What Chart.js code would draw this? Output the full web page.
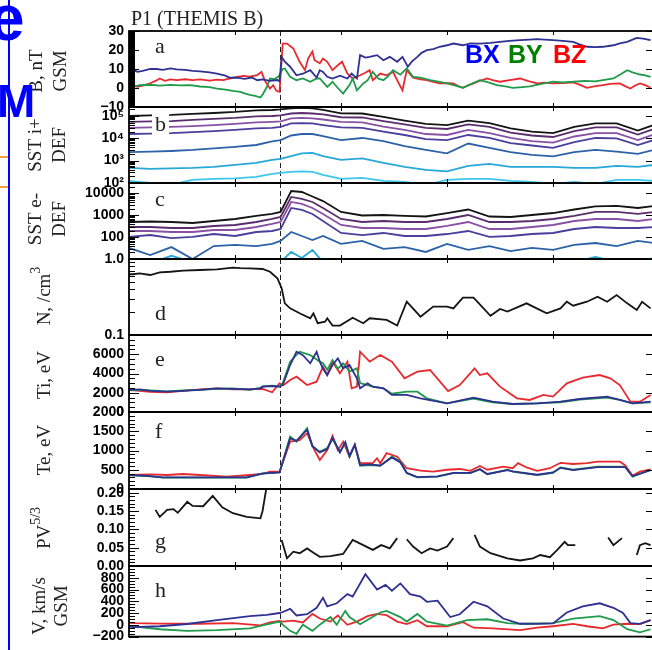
<!DOCTYPE html>
<html><head><meta charset="utf-8">
<script src="https://cdn.jsdelivr.net/npm/chart.js@4.4.1/dist/chart.umd.min.js"></script>
<style>
html,body{margin:0;padding:0;background:#fff;overflow:hidden;}
#wrap{position:relative;width:652px;height:650px;overflow:hidden;background:#fff;}
#wrap canvas{position:absolute;left:0;top:0;}
.ov{position:absolute;white-space:nowrap;z-index:10;}
</style></head>
<body><div id="wrap">
<div class="ov" style="left:131px;top:8px;font:20px/20px 'Liberation Serif',serif;color:#222;">P1 (THEMIS B)</div>
<div class="ov" style="left:465px;top:42px;font:bold 25px/25px 'Liberation Sans',Arial,sans-serif;color:#0000ff;">BX</div>
<div class="ov" style="left:508px;top:42px;font:bold 25px/25px 'Liberation Sans',Arial,sans-serif;color:#008000;">BY</div>
<div class="ov" style="left:553px;top:42px;font:bold 25px/25px 'Liberation Sans',Arial,sans-serif;color:#ff0000;">BZ</div>
<div class="ov" style="left:8px;top:0;width:2px;height:650px;background:#0000ff;"></div>
<div class="ov" style="left:0;top:156px;width:8px;height:2px;background:#f4a236;"></div>
<div class="ov" style="left:0;top:186px;width:8px;height:2px;background:#f4a236;"></div>
<div class="ov" style="left:-11px;top:-14px;font:bold 64px/64px 'Liberation Sans',Arial,sans-serif;color:#0000ff;">e</div>
<div class="ov" style="left:-3px;top:78px;font:bold 46px/46px 'Liberation Sans',Arial,sans-serif;color:#0000ff;">M</div>
</div>
<script>
// ---------------- time axis (arbitrary units, tick every 10) ----------------
const X_MAX = 49.43, ONSET = 14.25;
const X_TICKS = [10, 20, 30, 40];

// ---------------- panel a : B GSM (nT) ----------------
const aTbx = [0,0.4,0.8,1.3,2.0,2.6,3.2,3.9,4.5,5.3,6.0,6.7,7.6,8.3,9.1,9.5,10.2,10.9,11.6,12.1,12.6,13.3,14.0,14.2,14.4,14.7,15.2,15.8,16.4,17.1,17.7,18.0,18.3,18.7,19.2,19.9,20.6,21.0,21.5,21.8,22.3,22.7,23.4,24.0,24.6,25.3,25.8,26.3,26.7,27.2,27.6,28.1,28.7,29.3,30.0,30.6,31.5,32.2,33.1,34.1,35.0,35.9,36.9,37.8,38.5,39.2,40.0,40.9,41.9,42.5,43.2,44.0,44.7,45.7,46.3,47.0,47.5,47.9,48.5,49.2];
const aBX = [10,9.5,8.5,9,10,10,9.5,10.3,9.8,9.5,9,8.8,8.2,7.6,6.5,5.4,5.5,4.8,5.5,4.1,4.5,3.8,4.2,3.5,16.4,13.8,11.2,6.7,7.5,9.4,5.5,9.4,8.5,5.9,5,6.5,5,7.6,5,17.3,16,16.4,17.3,14.6,16.4,13.8,16.4,11.2,14,16.4,18.5,19.9,20.5,21.7,22.5,23.4,22.5,23.5,23.4,23.8,24.3,24.8,25.2,25.5,25.7,25.5,25.2,24.8,24.3,23,21.7,21.5,21.7,22.5,23.5,24.3,25.5,26.4,26,25.2];
const aTby = [0,0.6,1.0,2.0,2.9,3.9,4.8,5.8,6.7,7.6,8.3,9.1,9.8,10.5,10.9,11.4,11.9,12.4,12.6,13.0,13.3,13.7,14.1,14.5,14.7,15.2,15.8,16.4,17.1,17.7,18.0,18.7,19.2,19.7,20.2,20.8,21.1,21.5,22.1,22.5,23.0,23.5,24.0,24.4,24.9,25.6,26.2,26.8,27.5,28.4,29.2,30.0,30.8,31.5,32.2,33.1,33.9,34.7,35.5,36.2,37.1,37.8,38.8,40.0,40.9,41.9,43.0,44.0,44.7,45.7,46.3,47.0,47.5,48.2,48.7,49.2];
const aBY = [0.6,0.8,1.5,1.7,1.3,1.6,1.4,1.5,0.8,0.5,-0.3,-0.8,-1.5,-2,-2.8,-3.6,-4.2,-5,-3.5,0.5,5,4.6,6,10,10.3,5.9,4.1,5,3.3,5,5,0.6,3.3,0,-2.9,1.5,5,-1.2,2.4,4,8.5,5,4.1,6,9.4,7,10.3,5.9,5.5,4.1,3.3,2.4,1.3,0.1,2,4.1,3,1.5,0.8,0.1,0.5,0.8,2,3.3,3,3.3,3.8,3.5,4.1,5,7,9.4,8.2,7.1,6.6,5.9];
const aTbz = [0,0.4,0.8,1.3,2.0,2.6,2.9,3.4,3.9,4.5,5.3,6.0,6.7,7.6,8.3,8.9,9.5,10.2,10.8,11.4,12.1,12.5,12.8,13.3,13.6,13.9,14.2,14.5,14.9,15.5,16.1,16.6,16.9,17.3,17.5,18.0,18.3,18.7,19.2,19.7,20.1,20.6,21.1,21.8,22.3,22.7,23.0,23.7,24.3,24.9,25.4,25.8,26.2,26.8,27.5,28.1,28.7,29.3,30.0,30.6,31.0,31.5,32.0,32.5,33.1,33.8,34.3,35.0,35.9,36.9,37.6,38.5,39.2,40.0,40.9,41.9,42.5,43.2,44.0,44.7,45.4,46.3,46.8,47.3,47.7,48.2,48.7,49.2];
const aBZ = [2.4,1.5,0.6,1.2,2.5,4,5,3.8,4.5,4.1,4.6,4.1,4.5,3.9,4.4,4.1,5,5.8,6.4,6,6.8,8.5,4,-0.3,1.5,-1.5,-2,23.4,23.4,20.8,13.8,9.4,15.5,19.2,14.6,13,15.5,13.8,9.4,12,13.8,7.6,5,6.7,8,9.4,4.1,7.6,6.7,8.5,3,-1.2,9.4,5.4,4.6,4.1,3.2,2.4,2.6,2.4,1.2,0.1,1.4,2.4,3.8,5,4.2,3.3,4.2,5,3.8,2.4,2.8,2.4,2.6,3,1.8,0.1,1,1.5,2.2,2.4,1,-0.3,1.2,2.4,1.5,0.1];

// ---------------- panels b, c : SST differential energy flux channels ----------------
const tSST = [0,2,4,6,8,10,12,13.5,14.3,15.3,16.3,17.3,18.3,20,22,24,26,28,30,32,34,36,38,40,42,44,46,48,49.5];
const bCh1 = [99000,105000,110000,122000,135000,150000,175000,184000,194000,215000,227000,215000,184000,130000,128000,90000,62000,44000,39000,62000,48000,27500,20000,17000,32000,46000,46000,22000,39000];
const bCh2 = [54000,56500,59000,66000,73000,81000,94500,99000,105000,128000,135000,128000,116000,87000,85000,59000,41500,29000,26000,41500,32000,18000,13300,11400,21000,30500,30500,14700,26000];
const bCh3 = [29000,30500,32000,35000,39000,44000,51000,54000,56500,77000,81000,77000,69000,54000,51000,33500,23500,15500,14000,23500,17000,10300,7500,6450,12000,17000,17000,8300,14700];
const bCh4 = [15500,16200,17000,19000,21000,23500,27500,29000,32000,46000,48000,46000,39000,30500,29000,20000,14000,9200,8300,14000,10300,6100,4750,3700,6800,10300,9800,5000,8300];
const bCh5 = [2400,2550,2700,3000,3500,4100,5000,7200,8300,13300,15500,15500,12600,8300,10300,7500,4500,3000,2100,5800,3700,2400,1800,1550,2400,3000,2550,2000,3000];
const bCh6 = [475,430,452,475,525,645,795,1080,1200,1600,2100,2200,1600,1080,1260,795,525,385,332,585,715,525,525,525,475,475,585,525,645];
const bCh7 = [125,101,86,138,153,161,188,255,285,315,332,315,230,153,170,125,112,82,138,153,153,125,112,91,112,91,138,138,125];
const cCh1 = [493,520,493,444,548,677,930,1150,1420,12900,11650,7250,4470,1420,980,1030,930,880,1270,1840,880,836,1030,1270,1840,2530,2670,2160,2670];
const cCh2 = [291,291,262,262,324,360,493,677,836,6880,5570,4060,2160,677,493,548,493,493,677,1030,493,493,548,677,930,1420,1420,1150,1420];
const cCh3 = [191,191,172,172,212,212,291,400,493,4060,3290,2160,1150,360,262,262,236,236,324,493,236,236,291,360,548,677,677,548,677];
const cCh4 = [102,125,91,102,139,113,172,191,236,2160,1750,1150,548,155,125,155,113,113,139,191,102,113,139,155,236,291,262,262,291];
const cCh5 = [32,15,35,10,39,44,39,49,67,172,113,74,113,49,67,29,35,21,49,26,39,23,32,26,44,54,39,67,54];
const cCh6 = [7.3,6.5,14,7.3,7.3,7.3,7.3,7.3,7.3,21,11.1,26,7.3,7.3,7.3,7.3,7.3,7.3,7.3,7.3,7.3,7.3,7.3,7.3,7.3,12.4,7.3,7.3,11.1];

// ---------------- panel d : density ----------------
const dT = [0,0.4,1.0,2.0,2.9,3.9,5.1,6.7,8.3,9.8,10.5,11.4,12.6,13.3,14.0,14.4,14.7,15.2,16.1,17.1,17.4,17.8,18.5,18.7,19.2,19.9,21.1,22.1,22.7,24.3,25.3,26.2,27.5,28.7,30.0,30.6,31.5,32.5,34.1,35.0,35.7,37.5,39.4,40.7,41.3,41.9,43.2,44.2,45.1,46.0,47.0,47.9,48.4,49.2];
const dN = [0.63,0.63,0.648,0.616,0.668,0.68,0.702,0.717,0.732,0.768,0.76,0.755,0.739,0.68,0.557,0.412,0.261,0.224,0.193,0.166,0.193,0.143,0.15,0.166,0.133,0.133,0.169,0.143,0.166,0.158,0.133,0.274,0.174,0.236,0.236,0.224,0.31,0.31,0.179,0.22,0.203,0.261,0.193,0.224,0.274,0.243,0.274,0.319,0.274,0.336,0.261,0.213,0.274,0.224];

// ---------------- panel e : Ti (eV) ----------------
const eTx = [0,1.0,2.0,3.6,5.1,6.7,8.3,9.8,11.4,12.4,12.6,13.5,14.2,14.5,15.2,15.8,16.4,17.1,17.7,18.0,18.3,18.7,19.2,19.7,20.2,20.8,21.5,21.8,22.5,23.0,24.0,24.8,26.2,27.5,30.0,32.5,34.3,36.2,38.5,40.7,42.5,45.1,46.3,47.5,49.2];
const eTix = [2290,2350,2200,2110,2200,2290,2460,2400,2350,2460,2630,2700,2630,2805,4880,6260,5900,5060,6260,5230,4500,3840,4880,5580,4540,4880,3500,2460,2980,2630,2460,1770,1770,1420,900,1490,1070,830,900,1070,1350,1590,1250,900,1070];
const eTy = [0,1.0,2.0,3.6,5.1,6.7,8.3,9.8,11.4,12.4,12.6,13.5,14.2,14.5,15.2,16.1,17.1,18.0,18.3,18.7,19.2,19.7,20.2,20.8,21.5,21.8,22.5,23.0,24.0,24.8,26.2,27.2,28.1,30.0,32.5,34.3,36.2,38.5,40.7,42.5,45.1,46.3,47.5,49.2];
const eTiy = [2250,2300,2250,2150,2250,2300,2400,2450,2300,2500,2650,2750,2650,2980,5230,6260,5920,5230,5060,4400,5400,4500,5060,4200,4540,3000,2800,2630,2460,1900,2110,2110,1420,900,1400,1000,830,900,1000,1300,1500,1250,900,1000];
const eTz = [0,1.0,2.0,3.6,5.1,6.7,8.3,9.8,11.4,12.6,13.5,14.2,14.6,15.2,15.8,16.8,17.7,18.3,18.7,19.2,19.9,20.6,21.0,21.5,21.8,22.7,23.7,24.8,26.0,27.2,28.4,30.1,31.2,32.6,33.1,33.8,35.0,36.6,37.8,39.1,40.0,41.3,42.8,44.4,45.4,46.3,47.3,48.2,49.2];
const eTiz = [2290,2200,2100,2050,2200,2350,2460,2350,2350,2400,2050,2980,2800,3320,3670,2800,3150,4710,3840,5230,4020,5230,2460,2630,6260,5230,5920,5230,3500,4190,4360,2180,2800,4540,3840,4020,2630,1420,1250,1770,1600,2980,3560,3840,3500,2800,1070,1070,1770];

// ---------------- panel f : Te (eV) ----------------
const fTxy = [0,2.0,3.2,6.7,11.1,12.6,14.2,15.2,15.8,16.8,17.3,18.0,18.7,19.2,19.9,20.4,20.8,21.3,21.8,22.7,23.7,24.8,25.6,26.2,27.2,29.1,30.6,32.2,33.1,33.8,35.7,36.2,38.5,40.0,40.7,41.9,44.2,46.8,47.5,49.2];
const fTex = [364,335,300,300,300,405,430,1320,1250,1540,1120,950,1040,1330,950,1220,860,1160,620,640,610,820,690,420,310,330,420,420,510,390,490,460,370,430,550,490,570,570,330,490];
const fTey = [364,330,294,294,294,400,430,1360,1230,1580,1100,970,1060,1300,970,1200,840,1140,600,620,600,840,710,410,300,320,410,410,520,380,500,450,360,420,560,500,580,580,320,500];
const fTz = [0,2.0,3.6,5.1,6.7,9.2,11.4,12.6,13.3,14.2,15.2,16.1,16.8,17.4,18.0,18.7,19.2,19.7,20.2,20.8,21.3,21.8,23.0,23.4,23.7,24.3,25.3,26.2,27.5,28.7,30.0,31.2,32.2,33.1,33.8,35.3,36.2,36.7,37.5,38.5,39.7,40.7,41.9,43.2,44.2,46.3,46.8,47.5,48.2,49.2];
const fTez = [364,380,364,390,364,320,364,390,450,450,1230,1270,1450,1060,753,1010,1380,1010,1230,840,1140,670,670,800,670,930,840,540,475,450,500,520,470,600,500,580,540,670,560,470,540,680,650,670,710,710,620,350,450,510];

// ---------------- panel g : PV^5/3 (gaps = null) ----------------
const gT = [2.5,2.9,3.6,4.2,4.6,5.5,6.0,7.0,7.9,8.8,9.8,11.1,12.4,12.6,13.0,13.6,14.4,14.9,15.5,16.1,16.8,17.4,18.0,19.0,20.2,21.1,22.1,23.0,23.8,24.6,25.3,25.7,26.2,26.8,27.6,28.4,29.1,30.0,30.6,31.5,32.6,33.1,34.1,35.7,36.9,38.1,38.8,39.7,40.4,41.1,41.4,42.1,43.0,45.2,45.7,46.5,47.0,47.9,48.2,48.7,49.2];
const gPV = [0.153,0.134,0.153,0.155,0.145,0.175,0.164,0.163,0.191,0.16,0.144,0.134,0.13,0.15,0.22,null,0.071,0.021,0.039,0.035,0.048,0.036,0.025,0.027,0.033,0.071,0.057,0.044,0.057,0.048,0.076,null,0.073,0.053,0.035,0.048,0.042,0.053,0.076,null,0.085,0.053,0.035,0.021,0.015,0.021,0.03,0.024,0.044,0.066,0.057,0.057,null,0.078,0.057,0.076,null,0.03,0.057,0.062,0.057];

// ---------------- panel h : V GSM (km/s) ----------------
const hTx = [0,0.4,2.9,5.5,8.3,11.4,13.0,14.2,14.4,15.2,15.8,16.8,17.7,18.3,18.7,19.6,20.6,21.1,22.3,23.4,24.2,24.8,25.6,26.5,27.5,28.1,29.1,30.3,31.2,32.5,33.8,35.3,36.9,38.5,40.0,41.3,42.8,44.4,45.7,46.6,47.3,48.2,49.2];
const hVX = [-30,-39,-24,14,81,148,170,201,210,272,159,180,289,460,314,366,522,480,860,600,678,580,704,522,480,392,410,132,180,392,314,107,18,15,25,210,314,366,290,200,29,15,80];
const hTy = [0,0.4,2.9,5.5,8.3,11.4,12.6,14.2,14.5,15.2,15.8,16.4,17.3,18.0,19.0,19.6,20.4,20.8,21.8,23.7,24.3,25.6,26.2,27.2,28.1,30.0,31.9,33.8,35.7,36.9,40.0,41.9,44.4,45.7,47.0,48.2,49.2];
const hVY = [-20,-24,-75,-102,-90,-59,-10,55,3,-102,-153,3,-102,3,132,3,237,132,10,210,237,132,55,185,55,-13,81,95,29,18,29,107,148,81,-75,-127,-75];
const hTz = [0,0.4,2.9,6.7,9.8,12.4,13.3,14.2,14.5,15.5,16.4,17.3,18.0,19.0,19.7,20.6,21.5,22.5,23.4,24.3,25.3,26.2,27.2,28.1,30.0,31.5,32.5,34.3,36.9,38.5,40.0,41.9,43.2,44.7,45.7,47.0,48.2,49.2];
const hVZ = [35,29,20,18,29,-8,40,65,55,70,40,185,107,55,159,0,55,148,185,165,55,13,80,-24,-24,44,-49,-60,-91,-49,-24,15,-24,-60,3,18,13,80];

// ---------------- styling ----------------
const COL = {bx:'#2e3192', by:'#1f9b4b', bz:'#e8292e', k:'#141414', p1:'#5c2d6e', p2:'#8a50a5', ind:'#4a3f9c', blu:'#2d62a8', cy:'#28a7d9', lcy:'#3fc6ec'};
const LBL_FONT = {family: "'Liberation Sans', Arial, sans-serif", size: 14, weight: 'bold'};
const SERIF = "'Liberation Serif', 'Times New Roman', serif";
const SUP = {2:'\u00B2', 3:'\u00B3', 4:'\u2074', 5:'\u2075'};
const minus = v => v < 0 ? '\u2212' + (-v) : String(v);

function steps(a, b, s) { const r = []; for (let v = a; v <= b + 1e-9; v += s) r.push(+v.toFixed(6)); return r; }
function logMinor(n0, n1, max) { const r = []; for (let n = n0; n <= n1; n++) for (let k = 1; k <= 9; k++) { const v = k * Math.pow(10, n); if (v <= max * 1.0001) r.push(v); } return r; }
function pts(xs, ys) { return xs.map((x, i) => ({x: x, y: ys[i]})); }

const PANELS = [
 {key:'a', top:31, bottom:107, type:'linear', min:-10, max:30, labels:[30,20,10,0,-10], fmt:minus,
  majors:[-10,0,10,20,30], minors:steps(-10,30,0.5), letter:'a', letterDY:22, titleY:71,
  titles:[[37,[['B, nT']]],[61,[['GSM']]]],
  series:[[aTbx,aBX,COL.bx],[aTby,aBY,COL.by],[aTbz,aBZ,COL.bz]]},
 {key:'b', top:107, bottom:183, type:'logarithmic', min:100, max:250000, labels:[100000,10000,1000,100],
  fmt:v => '10' + SUP[Math.round(Math.log10(v))],
  majors:[100,1000,10000,100000], minors:logMinor(2,5,250000), letter:'b', letterDY:24, titleY:145,
  titles:[[36,[['SST i+']]],[60,[['DEF']]]],
  series:[[tSST,bCh1,COL.k],[tSST,bCh2,COL.p1],[tSST,bCh3,COL.p2],[tSST,bCh4,COL.ind],[tSST,bCh5,COL.blu],[tSST,bCh6,COL.cy],[tSST,bCh7,COL.lcy]]},
 {key:'c', top:183, bottom:259, type:'logarithmic', min:10, max:30000, labels:[10000,1000,100],
  fmt:v => String(Math.round(v)),
  majors:[10,100,1000,10000], minors:logMinor(1,4,30000), letter:'c', letterDY:23, titleY:219,
  titles:[[36,[['SST e-']]],[60,[['DEF']]]],
  series:[[tSST,cCh1,COL.k],[tSST,cCh2,COL.p1],[tSST,cCh3,COL.p2],[tSST,cCh4,COL.ind],[tSST,cCh5,COL.blu],[tSST,cCh6,COL.cy]]},
 {key:'d', top:259, bottom:335, type:'logarithmic', min:0.1, max:1, labels:[1,0.1],
  fmt:v => v.toFixed(1),
  majors:[0.1,1], minors:logMinor(-1,-1,1), letter:'d', letterDY:61, titleY:296,
  titles:[[45,[['N, /cm'],['3',1]]]],
  series:[[dT,dN,COL.k]]},
 {key:'e', top:335, bottom:412, type:'linear', min:0, max:8000, labels:[6000,4000,2000,0], fmt:String,
  majors:[0,2000,4000,6000,8000], minors:steps(0,8000,500), letter:'e', letterDY:31, titleY:375,
  titles:[[45,[['Ti, eV']]]],
  series:[[eTx,eTix,COL.bx],[eTy,eTiy,COL.by],[eTz,eTiz,COL.bz]]},
 {key:'f', top:412, bottom:489, type:'linear', min:0, max:2000, labels:[2000,1500,1000,500,0], fmt:String,
  majors:[0,500,1000,1500,2000], minors:steps(0,2000,100), letter:'f', letterDY:26, titleY:450,
  titles:[[45,[['Te, eV']]]],
  series:[[fTxy,fTex,COL.bx],[fTxy,fTey,COL.by],[fTz,fTez,COL.bz]]},
 {key:'g', top:489, bottom:566, type:'linear', min:0, max:0.21, labels:[0.2,0.15,0.1,0.05,0], fmt:v => v.toFixed(2),
  majors:[0,0.05,0.1,0.15,0.2], minors:steps(0,0.21,0.01), letter:'g', letterDY:59, titleY:528,
  titles:[[45,[['PV'],['5/3',1]]]],
  series:[[gT,gPV,COL.k]]},
 {key:'h', top:566, bottom:643, type:'linear', min:-200, max:1000, labels:[800,600,400,200,0,-200], fmt:minus,
  majors:[-200,0,200,400,600,800,1000], minors:steps(-200,1000,50), letter:'h', letterDY:31, titleY:606,
  titles:[[40,[['V, km/s']]],[62,[['GSM']]]],
  series:[[hTx,hVX,COL.bx],[hTy,hVY,COL.by],[hTz,hVZ,COL.bz]]}
];

const DECO = {};
function vText(ctx, cx, cy, parts, size) {
  ctx.save(); ctx.translate(cx, cy); ctx.rotate(-Math.PI / 2);
  ctx.textBaseline = 'middle'; ctx.textAlign = 'left'; ctx.fillStyle = '#222';
  let tot = 0;
  const ws = parts.map(p => { ctx.font = (p[1] ? Math.round(size * 0.72) : size) + 'px ' + SERIF; const w = ctx.measureText(p[0]).width; tot += w; return w; });
  let x = -tot / 2;
  parts.forEach((p, i) => { ctx.font = (p[1] ? Math.round(size * 0.72) : size) + 'px ' + SERIF; ctx.fillText(p[0], x, p[1] ? -size * 0.45 : 0); x += ws[i]; });
  ctx.restore();
}
const decoPlugin = {
  id: 'deco',
  beforeDatasetsDraw(chart) {
    const {ctx, chartArea: ca, scales: {x}} = chart;
    const px = Math.round(x.getPixelForValue(ONSET)) + 0.5;
    ctx.save(); ctx.strokeStyle = '#222'; ctx.lineWidth = 1; ctx.setLineDash([5, 3]);
    ctx.beginPath(); ctx.moveTo(px, ca.top); ctx.lineTo(px, ca.bottom); ctx.stroke(); ctx.restore();
  },
  afterDatasetsDraw(chart) {
    const p = DECO[chart.canvas.id];
    const {ctx, chartArea: ca, scales: {x, y}} = chart;
    ctx.save();
    ctx.font = '22px ' + SERIF;
    const lw = ctx.measureText(p.letter).width;
    const ly = ca.top + p.letterDY;
    ctx.fillStyle = '#fff'; ctx.fillRect(152, ly - 18, lw + 6, 23);
    ctx.fillStyle = '#222'; ctx.textBaseline = 'alphabetic'; ctx.textAlign = 'left';
    ctx.fillText(p.letter, 155, ly);
    ctx.strokeStyle = '#000'; ctx.lineWidth = 1; ctx.beginPath();
    p.minors.forEach(v => { const py = Math.round(y.getPixelForValue(v)) + 0.5; if (py < ca.top - 1 || py > ca.bottom + 1) return; ctx.moveTo(ca.left, py); ctx.lineTo(ca.left + 6, py); });
    p.majors.forEach(v => { const py = Math.round(y.getPixelForValue(v)) + 0.5; if (py < ca.top - 1 || py > ca.bottom + 1) return; ctx.moveTo(ca.left, py); ctx.lineTo(ca.left + 10, py); ctx.moveTo(ca.right, py); ctx.lineTo(ca.right - 7, py); });
    X_TICKS.forEach(v => { const px = Math.round(x.getPixelForValue(v)) + 0.5; ctx.moveTo(px, ca.top); ctx.lineTo(px, ca.top + 4); ctx.moveTo(px, ca.bottom); ctx.lineTo(px, ca.bottom - 4); });
    ctx.stroke();
    ctx.lineWidth = 1.8; ctx.strokeRect(ca.left, ca.top, ca.right - ca.left, ca.bottom - ca.top);
    p.titles.forEach(t => vText(ctx, t[0], p.titleY, t[1], 19));
    ctx.restore();
  }
};

const wrap = document.getElementById('wrap');
PANELS.forEach(p => {
  const cv = document.createElement('canvas');
  cv.id = 'panel_' + p.key; cv.width = 656; cv.height = 650;
  cv.style.width = '656px'; cv.style.height = '650px';
  wrap.insertBefore(cv, wrap.firstChild);
  DECO[cv.id] = p;
  new Chart(cv.getContext('2d'), {
    type: 'line',
    data: {datasets: p.series.map(s => ({data: pts(s[0], s[1]), borderColor: s[2], backgroundColor: s[2], borderWidth: 1.8, pointRadius: 0, tension: 0, fill: false, spanGaps: false}))},
    options: {
      responsive: false, animation: false, devicePixelRatio: 1, events: [],
      layout: {padding: {left: 0, right: 3, top: p.top, bottom: 650 - p.bottom}},
      plugins: {legend: {display: false}, tooltip: {enabled: false}},
      scales: {
        x: {type: 'linear', min: 0, max: X_MAX, display: false},
        y: {type: p.type, min: p.min, max: p.max, position: 'left',
            afterFit: s => { s.width = 129; },
            afterBuildTicks: s => { s.ticks = p.labels.map(v => ({value: v})); },
            grid: {display: false, drawTicks: false}, border: {display: false},
            ticks: {autoSkip: false, padding: 5, color: '#000', font: LBL_FONT, callback: v => p.fmt(v)}}
      }
    },
    plugins: [decoPlugin]
  });
});
</script>
</body></html>
